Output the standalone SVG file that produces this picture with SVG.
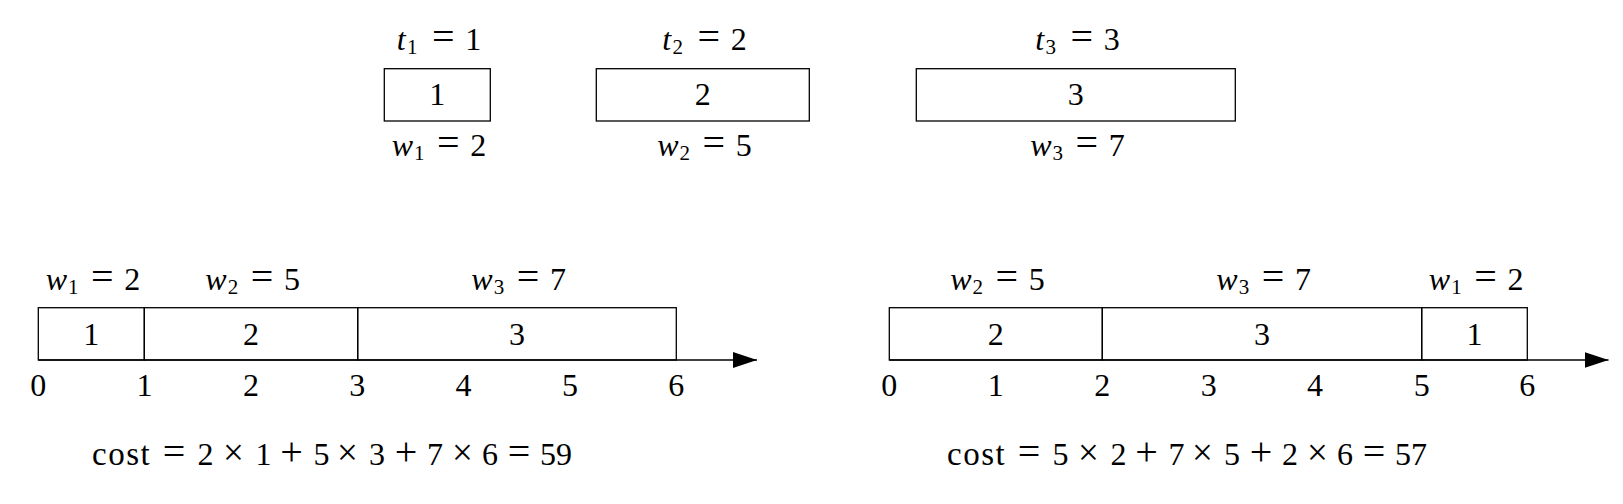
<svg xmlns="http://www.w3.org/2000/svg" width="1623" height="504" viewBox="0 0 1623 504">
<style>
text{font-family:"Liberation Serif","DejaVu Serif",serif;font-size:32px;fill:#000;text-anchor:middle}
.v{font-style:italic}
.s{font-size:21px}
.o{font-size:40px}
.x{font-size:37px}
.w{font-size:33px;letter-spacing:1.5px}
.box{fill:none;stroke:#000;stroke-width:1.3}
.ax{stroke:#000;stroke-width:1.3;fill:none}
</style>
<defs>
<marker id="ah" viewBox="0 0 24 16" refX="24" refY="8" markerWidth="24" markerHeight="16" markerUnits="userSpaceOnUse" orient="auto">
<path d="M0,0 L24,8 L0,16 Z" fill="#000"/>
</marker>
</defs>
<g id="job1">
<rect class="box" x="384.3" y="68.7" width="106" height="52.3"/>
<text x="437.3" y="105">1</text>
<text transform="translate(437.3,50)"><tspan class="v" x="-36" y="0">t</tspan><tspan class="s" x="-25" y="4">1</tspan><tspan class="o" x="6" y="0">=</tspan><tspan x="36" y="0">1</tspan></text>
<text transform="translate(437.3,156)"><tspan class="v" x="-35" y="0">w</tspan><tspan class="s" x="-18" y="4">1</tspan><tspan class="o" x="11" y="0">=</tspan><tspan x="41" y="0">2</tspan></text>
</g>
<g id="job2">
<rect class="box" x="596.3" y="68.7" width="213" height="52.3"/>
<text x="702.8" y="105">2</text>
<text transform="translate(702.8,50)"><tspan class="v" x="-36" y="0">t</tspan><tspan class="s" x="-25" y="4">2</tspan><tspan class="o" x="6" y="0">=</tspan><tspan x="36" y="0">2</tspan></text>
<text transform="translate(702.8,156)"><tspan class="v" x="-35" y="0">w</tspan><tspan class="s" x="-18" y="4">2</tspan><tspan class="o" x="11" y="0">=</tspan><tspan x="41" y="0">5</tspan></text>
</g>
<g id="job3">
<rect class="box" x="916.3" y="68.7" width="319" height="52.3"/>
<text x="1075.8" y="105">3</text>
<text transform="translate(1075.8,50)"><tspan class="v" x="-36" y="0">t</tspan><tspan class="s" x="-25" y="4">3</tspan><tspan class="o" x="6" y="0">=</tspan><tspan x="36" y="0">3</tspan></text>
<text transform="translate(1075.8,156)"><tspan class="v" x="-35" y="0">w</tspan><tspan class="s" x="-18" y="4">3</tspan><tspan class="o" x="11" y="0">=</tspan><tspan x="41" y="0">7</tspan></text>
</g>
<g id="connectors">
<line class="ax" x1="38.3" y1="360" x2="757" y2="360" marker-end="url(#ah)"/>
<line class="ax" x1="889.3" y1="360" x2="1608.5" y2="360" marker-end="url(#ah)"/>
</g>
<g id="scheduleA">
<rect class="box" x="38.3" y="307.7" width="106" height="52.3"/>
<rect class="box" x="144.3" y="307.7" width="213.4" height="52.3"/>
<rect class="box" x="357.7" y="307.7" width="318.6" height="52.3"/>
<text x="91.3" y="345">1</text>
<text x="251" y="345">2</text>
<text x="517" y="345">3</text>
<text transform="translate(91.3,290)"><tspan class="v" x="-35" y="0">w</tspan><tspan class="s" x="-18" y="4">1</tspan><tspan class="o" x="11" y="0">=</tspan><tspan x="41" y="0">2</tspan></text>
<text transform="translate(251,290)"><tspan class="v" x="-35" y="0">w</tspan><tspan class="s" x="-18" y="4">2</tspan><tspan class="o" x="11" y="0">=</tspan><tspan x="41" y="0">5</tspan></text>
<text transform="translate(517,290)"><tspan class="v" x="-35" y="0">w</tspan><tspan class="s" x="-18" y="4">3</tspan><tspan class="o" x="11" y="0">=</tspan><tspan x="41" y="0">7</tspan></text>
<text x="38.3" y="396">0</text>
<text x="144.6" y="396">1</text>
<text x="251" y="396">2</text>
<text x="357.3" y="396">3</text>
<text x="463.6" y="396">4</text>
<text x="570" y="396">5</text>
<text x="676.3" y="396">6</text>
<text y="465"><tspan class="w" x="121.7">cost</tspan><tspan class="o" x="174">=</tspan><tspan x="205.5">2</tspan><tspan class="x" x="233.5">×</tspan><tspan x="263.5">1</tspan><tspan class="o" x="291.5">+</tspan><tspan x="321.5">5</tspan><tspan class="x" x="347.5">×</tspan><tspan x="377">3</tspan><tspan class="o" x="406">+</tspan><tspan x="435">7</tspan><tspan class="x" x="462.5">×</tspan><tspan x="490">6</tspan><tspan class="o" x="519">=</tspan><tspan x="556">59</tspan></text>
</g>
<g id="scheduleB">
<rect class="box" x="889.3" y="307.7" width="213" height="52.3"/>
<rect class="box" x="1102.3" y="307.7" width="319.4" height="52.3"/>
<rect class="box" x="1421.7" y="307.7" width="105.6" height="52.3"/>
<text x="995.8" y="345">2</text>
<text x="1262" y="345">3</text>
<text x="1474.5" y="345">1</text>
<text transform="translate(995.8,290)"><tspan class="v" x="-35" y="0">w</tspan><tspan class="s" x="-18" y="4">2</tspan><tspan class="o" x="11" y="0">=</tspan><tspan x="41" y="0">5</tspan></text>
<text transform="translate(1262,290)"><tspan class="v" x="-35" y="0">w</tspan><tspan class="s" x="-18" y="4">3</tspan><tspan class="o" x="11" y="0">=</tspan><tspan x="41" y="0">7</tspan></text>
<text transform="translate(1474.5,290)"><tspan class="v" x="-35" y="0">w</tspan><tspan class="s" x="-18" y="4">1</tspan><tspan class="o" x="11" y="0">=</tspan><tspan x="41" y="0">2</tspan></text>
<text x="889.3" y="396">0</text>
<text x="995.8" y="396">1</text>
<text x="1102.3" y="396">2</text>
<text x="1208.7" y="396">3</text>
<text x="1315" y="396">4</text>
<text x="1421.7" y="396">5</text>
<text x="1527.3" y="396">6</text>
<text y="465"><tspan class="w" x="976.7">cost</tspan><tspan class="o" x="1029">=</tspan><tspan x="1060.5">5</tspan><tspan class="x" x="1088.5">×</tspan><tspan x="1118.5">2</tspan><tspan class="o" x="1146.5">+</tspan><tspan x="1176.5">7</tspan><tspan class="x" x="1202.5">×</tspan><tspan x="1232">5</tspan><tspan class="o" x="1261">+</tspan><tspan x="1290">2</tspan><tspan class="x" x="1317.5">×</tspan><tspan x="1345">6</tspan><tspan class="o" x="1374">=</tspan><tspan x="1411">57</tspan></text>
</g>
</svg>
